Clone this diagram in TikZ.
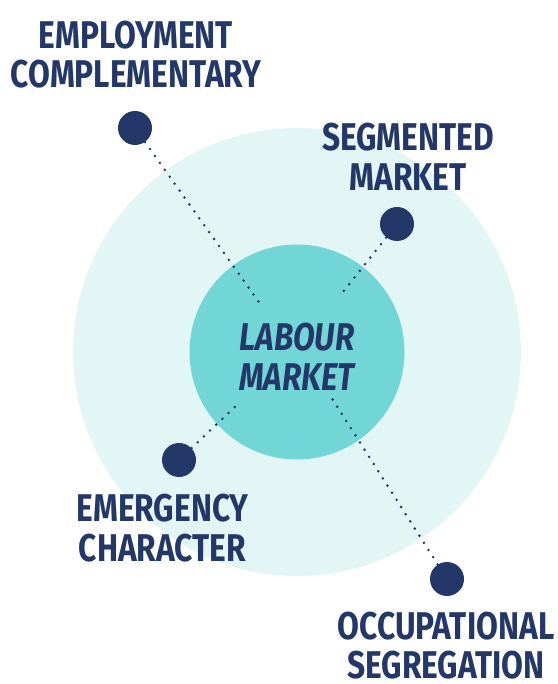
\documentclass[tikz,border=0pt]{standalone}
\usepackage{fontspec}
\newfontfamily\labelfont[FakeStretch=0.82]{Fira Sans}
\usetikzlibrary{positioning}

\definecolor{navy}{RGB}{35,56,105}
\definecolor{teal}{RGB}{114,213,214}
\definecolor{paleteal}{RGB}{227,246,246}

\tikzset{
  label text/.style={text=navy, align=center, inner sep=0pt,
    font=\labelfont\bfseries\fontsize{22}{22.6}\selectfont},
  bullet/.style={circle, fill=navy, minimum size=0.68cm, inner sep=0pt},
  link/.style={navy, line width=1.6pt, line cap=round, dash pattern=on 0pt off 0.17cm}
}

\begin{document}
\begin{tikzpicture}
\useasboundingbox (0,0) rectangle (11.14,13.68);

% the two rings
\fill[paleteal] (5.94,6.64) circle (4.48);
\node[circle, fill=teal, minimum size=4.3cm, inner sep=0pt] (core) at (5.94,6.64) {};
\node[label text, font=\labelfont\bfseries\itshape\fontsize{22}{22.6}\selectfont] (labour) at (5.94,6.55) {LABOUR\\MARKET};

% bullets and where their lines stop
\node[bullet] (employ) at (2.70,11.12) {};
\node[bullet] (segment) at (7.94,9.20) {};
\node[bullet] (emerg) at (3.58,4.48) {};
\node[bullet] (occup) at (8.94,2.10) {};
\coordinate (employEnd) at (5.22,7.58);
\coordinate (segmentEnd) at (6.78,7.74);
\coordinate (emergEnd) at (4.78,5.62);
\coordinate (occupEnd) at (6.62,5.74);

\draw[link] (employ) -- (employEnd);
\draw[link] (segment) -- (segmentEnd);
\draw[link] (emerg) -- (emergEnd);
\draw[link] (occup) -- (occupEnd);

% labels
\node[label text] (employText) at (2.72,12.59) {EMPLOYMENT\\COMPLEMENTARY};
\node[label text] (segmentText) at (8.16,10.54) {SEGMENTED\\MARKET};
\node[label text] (emergText) at (3.25,3.12) {EMERGENCY\\CHARACTER};
\node[label text] (occupText) at (8.92,0.77) {OCCUPATIONAL\\SEGREGATION};
\end{tikzpicture}
\end{document}
